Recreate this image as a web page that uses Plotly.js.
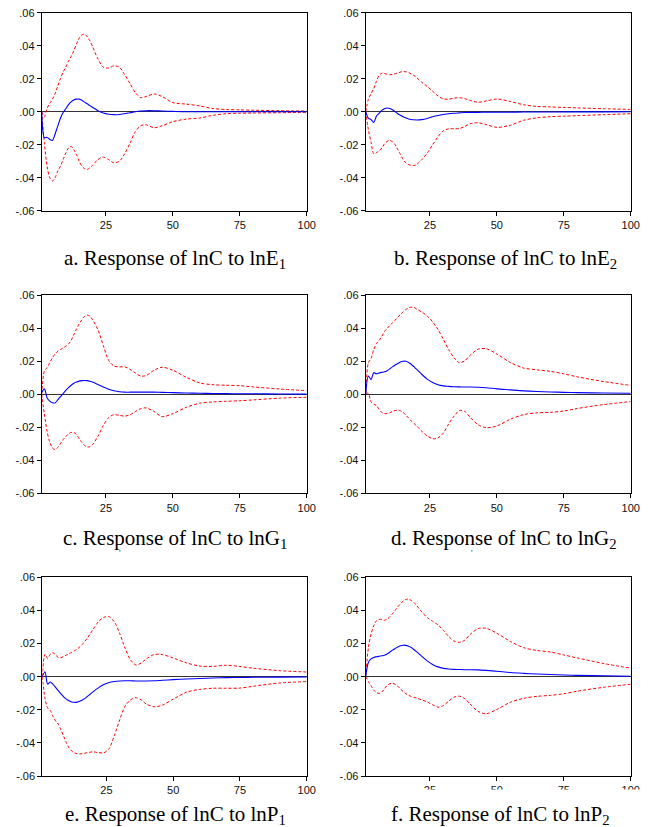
<!DOCTYPE html>
<html>
<head>
<meta charset="utf-8">
<script src="https://cdn.plot.ly/plotly-3.0.1.min.js"></script>
<style>
html,body{margin:0;padding:0;background:#fff;}
#chart{width:649px;height:827px;}
</style>
</head>
<body>
<div id="chart"></div>
<script>
const periods = [1,2,3,4,5,6,7,8,9,10,11,12,13,14,15,16,17,18,19,20,
  22,24,26,28,30,32,34,36,38,40,43,46,50,55,60,65,70,75,80,90,100];

const yTickVals = [-0.06,-0.04,-0.02,0,0.02,0.04,0.06];
const yTickText = ['-.06','-.04','-.02','.00','.02','.04','.06'];
const xTickVals = [25,50,75,100];
const xTickText = ['25','50','75','100'];

const panelTitles = [
  'a. Response of lnC to lnE<sub>1</sub>',
  'b. Response of lnC to lnE<sub>2</sub>',
  'c. Response of lnC to lnG<sub>1</sub>',
  'd. Response of lnC to lnG<sub>2</sub>',
  'e. Response of lnC to lnP<sub>1</sub>',
  'f. Response of lnC to lnP<sub>2</sub>'
];

// a. lnE1
const aResp = [0,-0.0158,-0.0155,-0.0168,-0.0174,-0.0135,-0.0087,-0.0040,-0.0005,0.0018,0.0043,0.0060,0.0071,0.0076,0.0076,0.0069,0.0058,0.0048,0.0037,0.0027,
  0.0006,-0.0008,-0.0015,-0.0018,-0.0017,-0.0012,-0.0006,0.0000,0.0004,0.0006,
  0.0006,0.0004,0.0002,0.0000,0.0000,0.0000,0.0000,0.0000,0.0000,0.0000,0.0000];
const aUpper = [0,-0.003,0.002,0.005,0.0075,0.011,0.0155,0.020,0.024,0.027,0.0305,0.0335,0.037,0.041,0.0445,0.0465,0.047,0.0455,0.043,0.0395,
  0.032,0.027,0.0265,0.0278,0.027,0.0225,0.017,0.0115,0.0085,0.0092,
  0.0107,0.0092,0.0055,0.0046,0.0035,0.0019,0.0013,0.0011,0.0009,0.0006,0.0004];
const aLower = [0,-0.019,-0.033,-0.040,-0.042,-0.040,-0.036,-0.033,-0.029,-0.025,-0.022,-0.021,-0.023,-0.026,-0.030,-0.033,-0.0345,-0.035,-0.034,-0.0325,
  -0.029,-0.0275,-0.029,-0.031,-0.030,-0.0255,-0.019,-0.012,-0.0085,-0.0079,
  -0.0097,-0.0085,-0.006,-0.0045,-0.0038,-0.0022,-0.0012,-0.0009,-0.0008,-0.0006,-0.0004];

// b. lnE2
const bResp = [0,-0.004,-0.0048,-0.0065,-0.0027,-0.001,0.0008,0.0018,0.0022,0.0019,0.0012,0.0,-0.0012,-0.0022,-0.0031,-0.0038,-0.0044,-0.0047,-0.0049,-0.005,
  -0.0048,-0.0041,-0.0031,-0.0023,-0.0017,-0.0012,-0.0009,-0.0007,-0.0005,-0.0004,
  -0.0004,-0.0003,-0.0003,-0.0003,-0.0002,-0.0002,-0.0002,-0.0001,-0.0001,-0.0001,0];
const bUpper = [0,0.0075,0.011,0.014,0.0185,0.022,0.0233,0.0232,0.0227,0.0224,0.0226,0.023,0.0235,0.024,0.0243,0.0242,0.0237,0.023,0.022,0.0207,
  0.0178,0.0153,0.0124,0.0096,0.0077,0.0076,0.0082,0.0085,0.0079,0.0069,
  0.0057,0.0065,0.0077,0.0062,0.0042,0.0032,0.0029,0.0026,0.0023,0.0018,0.0014];
const bLower = [0,-0.011,-0.0185,-0.0255,-0.0248,-0.0238,-0.022,-0.0195,-0.018,-0.0174,-0.0182,-0.020,-0.023,-0.026,-0.029,-0.031,-0.032,-0.0325,-0.0326,-0.032,
  -0.029,-0.025,-0.020,-0.0152,-0.0115,-0.0104,-0.0103,-0.0102,-0.009,-0.0073,
  -0.0067,-0.0078,-0.0095,-0.0082,-0.0052,-0.0037,-0.003,-0.0027,-0.0024,-0.0018,-0.0012];

// c. lnG1
const cResp = [0.001,0.0032,-0.0022,-0.0042,-0.0052,-0.0053,-0.0035,-0.0015,0.0004,0.0023,0.004,0.0054,0.0066,0.0074,0.0079,0.0082,0.0083,0.0082,0.0078,0.0073,
  0.0058,0.0043,0.003,0.0021,0.0015,0.0012,0.0012,0.0012,0.0012,0.0012,
  0.0012,0.0011,0.0009,0.0007,0.0005,0.0004,0.0003,0.0002,0.0002,0.0001,0.0];
const cUpper = [0,0.014,0.016,0.019,0.022,0.0243,0.026,0.027,0.028,0.029,0.0303,0.0325,0.036,0.0395,0.0425,0.045,0.047,0.0478,0.0472,0.045,
  0.039,0.0295,0.0205,0.017,0.0165,0.0165,0.015,0.0128,0.011,0.0112,
  0.0145,0.0163,0.0145,0.0102,0.0068,0.0057,0.0054,0.0051,0.0044,0.0031,0.0021];
const cLower = [0,-0.012,-0.0225,-0.029,-0.0325,-0.0335,-0.0322,-0.030,-0.0275,-0.0257,-0.024,-0.0232,-0.0232,-0.0245,-0.027,-0.0292,-0.031,-0.032,-0.0318,-0.0305,
  -0.0255,-0.019,-0.0142,-0.0124,-0.0128,-0.0133,-0.0125,-0.0105,-0.0088,-0.0083,
  -0.0105,-0.0136,-0.0118,-0.008,-0.0055,-0.0047,-0.0043,-0.004,-0.0035,-0.0024,-0.0019];

// d. lnG2
const dResp = [0,0.011,0.0088,0.013,0.0123,0.0128,0.0132,0.0135,0.0142,0.0153,0.0165,0.0176,0.0186,0.0195,0.0199,0.0199,0.0192,0.0181,0.0166,0.0151,
  0.0119,0.0091,0.0071,0.0057,0.005,0.0047,0.0045,0.0044,0.0043,0.0043,
  0.0042,0.0039,0.0032,0.0026,0.002,0.0016,0.0013,0.0011,0.0009,0.0007,0.0005];
const dUpper = [0.001,0.019,0.0215,0.027,0.0305,0.0325,0.035,0.0378,0.0398,0.0415,0.0432,0.0448,0.0465,0.0482,0.0498,0.0512,0.0522,0.0526,0.0525,0.0515,
  0.0497,0.0472,0.0438,0.0392,0.0332,0.027,0.022,0.019,0.0202,0.0235,
  0.0272,0.0275,0.0243,0.0192,0.0158,0.0147,0.0138,0.0123,0.0105,0.0076,0.0053];
const dLower = [0.0005,0.0005,-0.0048,-0.006,-0.0068,-0.0093,-0.011,-0.0118,-0.0118,-0.0113,-0.0105,-0.0099,-0.0096,-0.0101,-0.011,-0.0127,-0.0144,-0.0162,-0.0177,-0.0192,
  -0.0225,-0.0253,-0.027,-0.0265,-0.0235,-0.018,-0.0133,-0.0099,-0.0104,-0.014,
  -0.0185,-0.0203,-0.0193,-0.0152,-0.0124,-0.0113,-0.011,-0.0102,-0.0087,-0.0063,-0.0045];

// e. lnP1
const eResp = [0,0.003,-0.0045,-0.0032,-0.0046,-0.0065,-0.0085,-0.0104,-0.0122,-0.0136,-0.0146,-0.0153,-0.0155,-0.0154,-0.0149,-0.0141,-0.0131,-0.0118,-0.0105,-0.0092,
  -0.0068,-0.0048,-0.0035,-0.0029,-0.0026,-0.0025,-0.0025,-0.0026,-0.0026,-0.0026,
  -0.0025,-0.0022,-0.0018,-0.0014,-0.0011,-0.0008,-0.0006,-0.0005,-0.0004,-0.0003,-0.0002];
const eUpper = [0,0.0135,0.011,0.0135,0.0145,0.013,0.0116,0.0115,0.0122,0.013,0.0138,0.0147,0.0156,0.0166,0.018,0.0195,0.0215,0.0236,0.026,0.0285,
  0.0332,0.0358,0.0362,0.033,0.026,0.0172,0.0102,0.0071,0.0082,0.0108,
  0.0134,0.0133,0.0113,0.0083,0.0064,0.0062,0.0069,0.0061,0.0051,0.0036,0.0028];
const eLower = [0,-0.013,-0.019,-0.0205,-0.024,-0.0268,-0.0287,-0.0322,-0.036,-0.0398,-0.043,-0.0449,-0.046,-0.0465,-0.0467,-0.0465,-0.0462,-0.0459,-0.0456,-0.0454,
  -0.0459,-0.046,-0.0435,-0.0355,-0.026,-0.0178,-0.0141,-0.0127,-0.014,-0.0166,
  -0.0182,-0.0172,-0.0136,-0.0094,-0.0077,-0.007,-0.007,-0.0069,-0.0058,-0.0038,-0.003];

// f. lnP2
const fResp = [0,0.0086,0.0107,0.0116,0.012,0.0123,0.0126,0.0129,0.0137,0.0148,0.016,0.017,0.0179,0.0186,0.019,0.0189,0.0184,0.0176,0.0164,0.0151,
  0.0122,0.0095,0.0074,0.0059,0.005,0.0046,0.0044,0.0043,0.0042,0.0042,
  0.0041,0.0038,0.0033,0.0025,0.002,0.0016,0.0013,0.001,0.0008,0.0005,0.0002];
const fUpper = [0,0.0175,0.0257,0.0307,0.0337,0.0346,0.0345,0.0341,0.0347,0.0362,0.038,0.04,0.0422,0.044,0.0456,0.0466,0.0469,0.046,0.0448,0.043,
  0.039,0.0357,0.0334,0.0313,0.028,0.0243,0.0215,0.0207,0.022,0.0255,
  0.029,0.0292,0.0262,0.0213,0.0175,0.0158,0.0149,0.0131,0.0113,0.0079,0.0051];
const fLower = [0,-0.003,-0.0055,-0.0081,-0.0096,-0.0101,-0.0094,-0.0073,-0.0053,-0.0043,-0.0041,-0.0046,-0.0058,-0.0075,-0.009,-0.0103,-0.0112,-0.012,-0.0125,-0.0129,
  -0.0141,-0.0153,-0.017,-0.0184,-0.0175,-0.0148,-0.0124,-0.0118,-0.0132,-0.0166,
  -0.021,-0.0224,-0.0198,-0.0155,-0.0131,-0.0119,-0.0113,-0.0103,-0.0088,-0.0064,-0.0046];

const panels = [
  {resp:aResp, up:aUpper, lo:aLower},
  {resp:bResp, up:bUpper, lo:bLower},
  {resp:cResp, up:cUpper, lo:cLower},
  {resp:dResp, up:dUpper, lo:dLower},
  {resp:eResp, up:eUpper, lo:eLower},
  {resp:fResp, up:fUpper, lo:fLower}
];

// ---- geometry (pixels) ----
const W = 649, H = 827;
const boxes = [
  {l:41.7, r:306.7, t:12.7, b:210.7, tx:175, ty:259},
  {l:365.7, r:630.7, t:12.7, b:210.7, tx:505, ty:259},
  {l:41.7, r:306.7, t:295, b:493.3, tx:175, ty:539},
  {l:365.7, r:630.7, t:295, b:493.3, tx:504, ty:539},
  {l:42.3, r:306.7, t:577.3, b:776, tx:175, ty:815},
  {l:365.7, r:630.7, t:577.3, b:776, tx:500, ty:815}
];

const tickFont = {family:'Liberation Sans, Arial, sans-serif', size:11, color:'#111'};
const data = [];
const layout = {
  width:W, height:H, margin:{l:0,r:0,t:0,b:0},
  paper_bgcolor:'#fff', plot_bgcolor:'#fff', showlegend:false,
  annotations:[], shapes:[]
};

panels.forEach((p, i) => {
  const sfx = i === 0 ? '' : String(i+1);
  const xa = 'x'+sfx, ya = 'y'+sfx;
  const bx = boxes[i];
  const red = {color:'#ff0000', width:1, dash:'3px,2px', shape:'spline', smoothing:0.8};
  data.push({x:periods, y:p.up, xaxis:xa, yaxis:ya, type:'scatter', mode:'lines', line:red, hoverinfo:'skip'});
  data.push({x:periods, y:p.lo, xaxis:xa, yaxis:ya, type:'scatter', mode:'lines', line:red, hoverinfo:'skip'});
  data.push({x:periods, y:p.resp, xaxis:xa, yaxis:ya, type:'scatter', mode:'lines',
    line:{color:'#0000ff', width:1.1, shape:'spline', smoothing:0.8}, hoverinfo:'skip'});

  layout['xaxis'+sfx] = {
    domain:[bx.l/W, bx.r/W], anchor:ya, range:[1,100],
    tickmode:'array', tickvals:xTickVals, ticktext:xTickText,
    ticks:'outside', ticklen:4, tickcolor:'#000', tickwidth:1,
    showline:true, linecolor:'#000', linewidth:1, mirror:true,
    showgrid:false, zeroline:false, tickfont:tickFont, fixedrange:true
  };
  layout['yaxis'+sfx] = {
    domain:[1-bx.b/H, 1-bx.t/H], anchor:xa, range:[-0.06,0.06],
    tickmode:'array', tickvals:yTickVals, ticktext:yTickText,
    ticks:'outside', ticklen:4, tickcolor:'#000', tickwidth:1,
    showline:true, linecolor:'#000', linewidth:1, mirror:true,
    showgrid:false, zeroline:true, zerolinecolor:'#333', zerolinewidth:1,
    tickfont:tickFont, fixedrange:true
  };
  layout.annotations.push({
    xref:'paper', yref:'paper', x:bx.tx/W, y:1-bx.ty/H,
    xanchor:'center', yanchor:'middle', showarrow:false,
    text:panelTitles[i],
    font:{family:'Liberation Serif, Times New Roman, serif', size:21, color:'#000'}
  });
});

// small stray marks below panels c and d in the source image
[[120,553],[472,553]].forEach(m => {
  layout.annotations.push({xref:'paper', yref:'paper', x:m[0]/W, y:1-m[1]/H,
    xanchor:'center', yanchor:'middle', showarrow:false, text:"'",
    font:{family:'Liberation Serif, serif', size:9, color:'#333'}});
});

// the source image cuts off the lower half of panel f's x tick labels
layout.shapes.push({type:'rect', xref:'paper', yref:'paper', layer:'above',
  x0:340/W, x1:1, y0:1-801/H, y1:1-789.5/H,
  fillcolor:'#fff', line:{width:0}});

Plotly.newPlot('chart', data, layout, {staticPlot:true, displayModeBar:false});
</script>
</body>
</html>
